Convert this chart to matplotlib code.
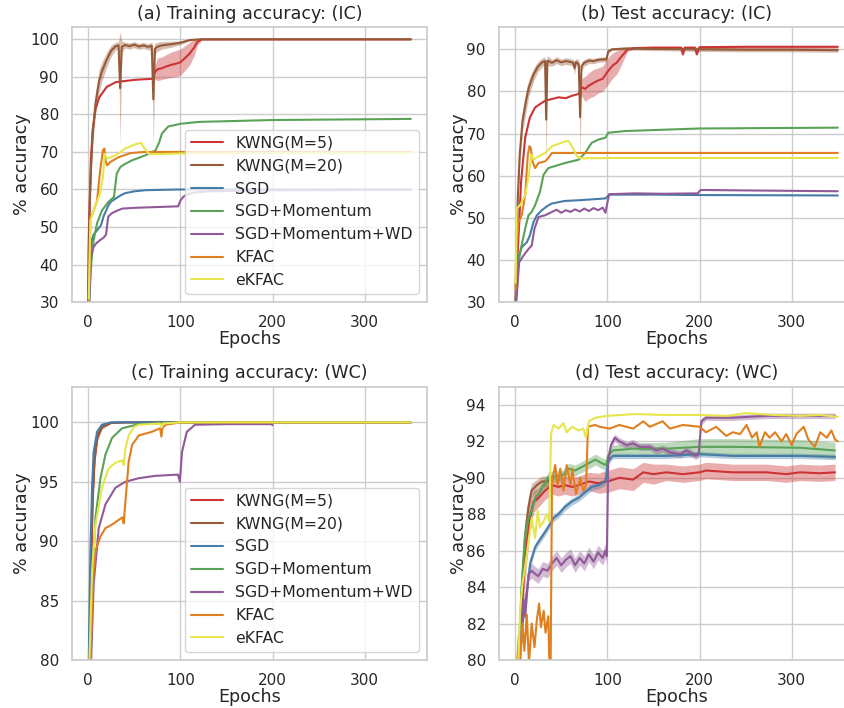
import numpy as np
import matplotlib.pyplot as plt
import seaborn as sns

sns.set_theme(style="whitegrid", context="notebook")
plt.rcParams['font.family'] = ['DejaVu Sans']
plt.rcParams['axes.titlesize'] = 12.6
plt.rcParams['axes.labelsize'] = 12.6
plt.rcParams['legend.fontsize'] = 11.3

labels = ["KWNG(M=5)", "KWNG(M=20)", "SGD", "SGD+Momentum", "SGD+Momentum+WD", "KFAC", "eKFAC"]
set1 = sns.color_palette("Set1", desat=0.75)
colors = [set1[0], set1[6], set1[1], set1[2], set1[3], set1[4], set1[5]]

# ---------------- (a) training accuracy, IC ----------------
a_ep_kw5 = [0, 1, 3, 5, 8, 12, 20, 30, 50, 70, 72, 75, 80, 85, 90, 95, 100, 105, 110, 115, 118, 123, 130, 200, 350]
a_kw5 = [30, 50, 68, 76, 81.5, 84.5, 87.3, 88.6, 89.2, 89.5, 91.0, 92.0, 92.3, 92.8, 93.2, 93.5, 93.9, 95.0, 96.2, 97.8, 99.2, 100, 100, 100, 100]
a_sd_kw5 = [0, 0, 0, 0, 0, 0, 0, 0, 0, 0, 1.5, 3.0, 3.0, 3.2, 3.4, 3.5, 3.5, 3.3, 3.0, 2.2, 1.0, 0.2, 0, 0, 0]

a_ep_kw20 = [0, 1, 3, 5, 8, 12, 15, 20, 25, 30, 33, 34.7, 36.5, 40, 45, 50, 55, 60, 65, 69,
             70.7, 72.5, 75, 80, 90, 100, 110, 120, 200, 350]
a_kw20 = [30, 50, 65, 75, 83, 89, 91.5, 94.5, 97, 98.2, 98.4, 87, 98.0, 98.5, 98.2, 98.6, 98.1, 98.4, 98.0, 98.3,
          84, 97.5, 98.0, 98.4, 98.7, 99.1, 99.8, 100, 100, 100]
a_sd_kw20 = [0, 1, 2, 2.5, 3, 3, 2.5, 2, 1.5, 1, 1, 15, 1.5, 0.8, 0.8, 0.8, 0.8, 0.8, 0.8, 1,
             13, 1.5, 1.2, 1, 0.8, 0.5, 0.2, 0.1, 0, 0]

a_ep_sgd = [0.5, 1.5, 2.5, 4, 6, 10, 14, 17, 20, 22, 25, 30, 35, 40, 50, 62, 80, 100, 200, 350]
a_sgd = [30, 38, 43.8, 46.5, 48, 49.2, 50.5, 53, 54.6, 55.8, 56.8, 57.6, 58.4, 59, 59.5, 59.8, 59.9, 60, 60, 60]

a_ep_mom = [1, 2, 3.6, 6, 9.7, 15, 22, 28, 31, 35, 40, 48, 62, 73, 77, 80, 87, 95, 100, 120, 200, 350]
a_mom = [29, 34, 41, 46.5, 51, 54.4, 56.7, 58, 64.2, 66, 66.8, 67.8, 69.1, 70.4, 72.5, 74.9, 76.8, 77.2, 77.5, 78.0, 78.5, 78.8]

a_ep_wd = [1, 2, 2.5, 4, 6, 9, 13, 17, 19.5, 21.7, 24, 26, 30, 37, 50, 73, 97.5, 100, 103, 107, 115, 130, 200, 350]
a_wd = [28, 36, 41, 43.2, 44.7, 45.7, 46.5, 47.2, 48, 52.7, 53.3, 53.7, 54.2, 54.9, 55.1, 55.3, 55.5, 57.0, 58.0, 58.6, 59.2, 59.5, 59.8, 59.9]

a_ep_kfac = [0.7, 2.5, 5, 9.7, 13, 16, 17.7, 18.8, 20.6, 24, 33, 46, 62, 100, 200, 350]
a_kfac = [30.5, 52.7, 53.6, 57, 65, 70.4, 70.9, 67.7, 66.4, 67.3, 68.6, 69.7, 70, 70, 70, 70]

a_ep_ekfac = [0.7, 2.5, 8, 13, 16, 18, 20.6, 30, 40, 53, 57.8, 60, 66, 73, 100, 200, 350]
a_ekfac = [30.9, 51.8, 55.8, 58.9, 63.3, 69.5, 68.2, 69.1, 70.9, 72.2, 72.4, 71.3, 69.5, 69.4, 69.6, 69.7, 69.7]

# ---------------- (b) test accuracy, IC ----------------
b_ep_kw5 = [0.5, 1.8, 4.3, 6.5, 10.9, 16, 21.7, 27, 32.6, 40, 47, 55, 62, 69, 72, 76, 80, 85, 90, 95,
            100, 106, 110, 115, 122, 130, 150, 180, 182, 184, 195, 197, 200, 250, 300, 350]
b_kw5 = [30, 37.8, 48.2, 58.6, 69, 73.8, 76.2, 77.0, 77.8, 78.2, 78.6, 78.4, 79.0, 79.4, 81.0, 80.6, 81.4, 82.0, 82.6, 83.0,
         84.6, 86.2, 86.8, 88.2, 90.0, 90.3, 90.4, 90.4, 88.8, 90.4, 90.4, 88.8, 90.5, 90.6, 90.6, 90.6]
b_sd_kw5 = [0, 0, 0, 0, 0, 0, 0, 0, 0, 0, 0, 0, 0, 0, 2.0, 3.0, 3.0, 3.2, 3.0, 3.0,
            3.2, 3.0, 2.8, 2.0, 0.5, 0.3, 0.3, 0.3, 0.3, 0.3, 0.3, 0.3, 0.3, 0.3, 0.3, 0.3]

b_ep_kw20 = [0.5, 1, 3, 5, 8, 12, 15, 20, 25, 30, 32.5, 33.7, 35, 40, 45, 50, 55, 60, 63, 64.5,
             66, 69, 70.5, 72, 75, 80, 85, 90, 95, 99, 101, 105, 120, 150, 200, 250, 300, 350]
b_kw20 = [30, 40, 55, 65, 73, 78, 81, 84, 86, 87, 87.2, 73.3, 87.3, 86.8, 87.4, 86.9, 87.2, 87.0, 86.8, 85.5,
          87.0, 86.5, 73.9, 86.0, 86.8, 87.3, 87.2, 87.5, 87.6, 87.6, 89.5, 90.0, 90.2, 90.1, 90.0, 89.9, 89.9, 89.8]
b_sd_kw20 = [0, 1, 2, 2.5, 2.5, 2.5, 2, 1.5, 1.2, 1, 1, 12, 1.2, 0.8, 0.8, 0.8, 0.8, 0.8, 0.8, 1.5,
             0.8, 1, 10, 1, 0.8, 0.7, 0.6, 0.6, 0.6, 0.6, 0.5, 0.3, 0.3, 0.4, 0.5, 0.5, 0.5, 0.5]

b_ep_sgd = [0.5, 1.8, 4.3, 7.2, 12.7, 16, 20, 23.6, 29, 35, 40, 54, 72, 85, 98, 100, 102, 150, 200, 350]
b_sgd = [30, 33, 41, 43, 44.2, 45.8, 49, 50.6, 51.8, 52.8, 53.4, 54.0, 54.2, 54.4, 54.6, 55.0, 55.5, 55.5, 55.4, 55.3]

b_ep_mom = [0.5, 2.9, 5.4, 10.9, 14.5, 18, 21.7, 27, 30.8, 36, 54, 69, 76, 83, 90.6, 98, 101, 120, 200, 350]
b_mom = [29.8, 37.8, 41.8, 47.4, 50.6, 51.4, 53, 56.2, 60.2, 61.8, 63, 63.8, 65.4, 67.8, 68.6, 69, 70.2, 70.6, 71.2, 71.4]

b_ep_wd = [0.5, 1.8, 4.3, 9, 14.5, 18, 21, 25.4, 32.6, 40, 45, 50, 55, 60, 65, 70, 75, 80, 85, 90,
           95, 98, 100, 102, 130, 160, 198, 201, 250, 350]
b_wd = [28, 31.4, 39.4, 41, 42.6, 43.4, 47.4, 50.2, 50.6, 51.4, 51.9, 51.2, 51.8, 51.4, 52.0, 51.5, 52.2, 51.6, 52.3, 51.8,
        52.4, 51.2, 53.5, 55.6, 55.8, 55.7, 55.8, 56.6, 56.5, 56.3]

b_ep_kfac = [0.5, 1.8, 3.6, 7.2, 10.9, 13.8, 15.6, 17, 18.8, 21.7, 25.4, 32.6, 36, 40, 100, 200, 350]
b_kfac = [33, 43.4, 49, 50.6, 55.4, 65, 67, 66.6, 63.4, 61.8, 63, 63.4, 64.2, 65.4, 65.4, 65.4, 65.4]

b_ep_ekfac = [0.5, 1.8, 5.4, 10.9, 15, 17.4, 20, 25.4, 32.6, 40, 54, 58, 61.6, 67, 72, 100, 200, 350]
b_ekfac = [34.6, 52.2, 53, 55.4, 60.2, 65, 63.8, 64.6, 65.4, 67, 68.1, 68.2, 67, 64.6, 64.1, 64.2, 64.2, 64.2]

# ---------------- (c) training accuracy, WC ----------------
c_ep_kw5 = [1, 3, 5, 7, 10, 15, 25, 40, 350]
c_kw5 = [79, 87.5, 93.5, 96.8, 98.7, 99.6, 99.95, 100, 100]

c_ep_kw20 = [1, 3, 5, 7, 10, 15, 25, 40, 350]
c_kw20 = [79, 88, 94, 97, 98.8, 99.6, 99.95, 100, 100]
c_sd_kw20 = [0, 0.8, 0.8, 0.6, 0.4, 0.2, 0, 0, 0]

c_ep_sgd = [0.7, 2.5, 4.3, 6, 9.7, 15, 25, 350]
c_sgd = [80, 89.2, 94.7, 97.5, 99.2, 99.8, 100, 100]

c_ep_mom = [2.5, 4.3, 8, 13.4, 18.8, 26, 36.8, 55, 100, 350]
c_mom = [80, 86.4, 92, 95.3, 97.3, 98.7, 99.5, 99.85, 100, 100]

c_ep_wd = [3.2, 6, 11.5, 18.8, 29.6, 40.4, 55, 73, 97.5, 99.5, 101.8, 107, 116, 150, 199, 200]
c_wd = [80, 86.4, 91.1, 93.1, 94.5, 95, 95.3, 95.5, 95.6, 95.0, 97.5, 99.2, 99.8, 99.85, 99.85, 99.75]

c_ep_kfac = [2.5, 5, 8, 13.4, 18.8, 26, 37, 38.6, 40.4, 44, 47.7, 55, 69, 78, 79.5, 80.5, 84, 100, 350]
c_kfac = [80, 86.4, 89.2, 90.4, 91.1, 91.4, 92, 91.5, 93.3, 96.7, 98.1, 98.9, 99.2, 99.5, 98.8, 99.5, 99.8, 100, 100]

c_ep_ekfac = [1.4, 4.3, 8, 15, 22, 29.6, 37, 38.6, 40.4, 44, 49.5, 55, 78, 80, 81, 100, 350]
c_ekfac = [80, 87.5, 91.4, 94.5, 96.1, 96.6, 96.8, 96.4, 97.8, 98.9, 99.6, 99.8, 99.9, 99.6, 99.9, 100, 100]

# ---------------- (d) test accuracy, WC ----------------
d_ep_kw5 = [4.3, 9, 12.7, 16.3, 20, 25.4, 32.6, 40, 47, 54, 61.6, 69, 80, 90.6, 98, 100.7, 113, 128, 139, 150,
            164, 182, 200, 207, 236, 273, 294, 309, 330, 347]
d_kw5 = [80, 84.2, 86.4, 87.8, 88.7, 88.9, 89.3, 89.6, 89.5, 89.6, 89.5, 89.6, 89.8, 89.7, 89.8, 89.8, 90.0, 89.9, 90.3, 90.2,
         90.3, 90.2, 90.3, 90.4, 90.3, 90.3, 90.2, 90.3, 90.25, 90.3]
d_sd_kw5 = [0.5, 1.0, 1.0, 0.8, 0.6, 0.5, 0.5, 0.5, 0.5, 0.5, 0.5, 0.5, 0.5, 0.55, 0.6, 0.6, 0.6, 0.6, 0.55, 0.55,
            0.45, 0.45, 0.45, 0.45, 0.45, 0.45, 0.45, 0.45, 0.45, 0.45]

d_ep_kw20 = [4, 7.2, 10.9, 14.5, 18, 23.6, 29, 34.4, 38]
d_kw20 = [80, 83.8, 86.9, 88.4, 89.3, 89.6, 89.8, 89.8, 89.9]
d_sd_kw20 = [0.3, 0.6, 0.8, 0.6, 0.4, 0.3, 0.3, 0.3, 0.3]

d_ep_sgd = [3.6, 9, 12.7, 16.3, 21.7, 25.4, 30.8, 36, 41.7, 47, 54, 61.6, 68.8, 76, 83, 90.6, 98, 100.7, 106, 128,
            164, 200, 236, 273, 310, 347]
d_sgd = [80, 82.4, 83.8, 85.3, 86.2, 86.5, 86.9, 87.3, 87.8, 88.0, 88.4, 88.7, 88.9, 89.2, 89.5, 89.6, 89.8, 90.9, 91.2, 91.2,
         91.2, 91.3, 91.2, 91.2, 91.2, 91.15]
d_sd_sgd = [0.2, 0.3, 0.3, 0.3, 0.2, 0.2, 0.2, 0.2, 0.2, 0.2, 0.2, 0.2, 0.2, 0.2, 0.2, 0.2, 0.2, 0.2, 0.15, 0.15,
            0.15, 0.15, 0.15, 0.15, 0.15, 0.15]

d_ep_mom = [3.6, 7.2, 10.9, 14.5, 18, 21.7, 25.4, 30.8, 36, 43.5, 50.7, 58, 65, 72.5, 80, 87, 94, 99, 100.7, 106,
            128, 164, 200, 236, 309, 347]
d_mom = [80, 84.2, 86.9, 87.8, 88.2, 88.9, 89.1, 89.6, 90.0, 90.1, 90.1, 90.5, 90.4, 90.6, 90.8, 91.0, 90.8, 90.7, 91.2, 91.5,
         91.6, 91.6, 91.7, 91.7, 91.65, 91.5]
d_sd_mom = [0.2, 0.3, 0.3, 0.3, 0.3, 0.3, 0.3, 0.3, 0.3, 0.3, 0.3, 0.3, 0.3, 0.3, 0.3, 0.3, 0.3, 0.3, 0.3, 0.3,
            0.3, 0.35, 0.45, 0.45, 0.45, 0.45]

d_ep_wd = [3.6, 6, 9, 10.9, 14.5, 18, 20, 25, 30, 35, 40, 45, 50, 55, 60, 65, 70, 75, 80, 85,
           90, 95, 98, 99.5, 101, 104, 108, 113, 121, 128, 135, 146, 153, 160, 168, 179, 186, 196, 199, 202,
           207, 236, 273, 309, 347]
d_wd = [80, 80.9, 83.3, 82.4, 84.7, 84.9, 84.8, 84.6, 85.0, 84.9, 85.3, 85.6, 85.2, 85.5, 85.7, 85.2, 85.6, 85.3, 85.8, 85.4,
        85.9, 85.6, 86.0, 85.7, 91.0, 91.8, 92.2, 92.0, 91.8, 91.9, 91.7, 91.7, 91.5, 91.6, 91.4, 91.3, 91.5, 91.2, 91.3, 93.1,
        93.3, 93.3, 93.4, 93.4, 93.4]
d_sd_wd = [0.3, 0.4, 0.5, 0.5, 0.4, 0.4, 0.4, 0.4, 0.4, 0.4, 0.4, 0.4, 0.4, 0.4, 0.4, 0.4, 0.4, 0.4, 0.4, 0.4,
           0.4, 0.4, 0.4, 0.4, 0.3, 0.2, 0.2, 0.2, 0.2, 0.2, 0.2, 0.2, 0.2, 0.2, 0.2, 0.2, 0.2, 0.2, 0.2, 0.2,
           0.15, 0.15, 0.15, 0.15, 0.15]

d_ep_kfac = [1.8, 4, 5.5, 8, 10, 12.7, 15, 18, 21, 23.6, 26, 28, 31, 33, 36, 37.3, 38.5, 40, 43.5, 46,
             49, 52.5, 56, 60, 62, 66, 70.7, 74, 77, 79, 87, 91.7, 102.5, 113, 128, 139, 146, 160, 168, 182,
             200, 207, 218, 229, 236, 244, 251, 257, 262, 265, 271, 276, 282, 289, 294, 300, 305, 313, 318, 325,
             331, 338, 343, 347, 350]
d_kfac = [79.5, 81.3, 79.8, 82.0, 80.5, 82.5, 79.8, 82.0, 80.7, 82.2, 83.1, 81.8, 82.7, 81.5, 82.4, 79.5, 79.5, 89.8, 90.7, 89.6,
          90.5, 89.3, 90.7, 89.6, 90.5, 89.1, 90.0, 89.3, 89.6, 92.8, 92.9, 92.8, 92.7, 92.9, 92.7, 93.1, 92.8, 93.1, 92.7, 92.9,
          92.8, 92.5, 92.8, 92.3, 92.5, 92.4, 92.9, 92.2, 92.5, 91.7, 92.5, 92.2, 92.5, 92.0, 92.4, 91.8, 92.4, 92.8, 92.1, 91.7,
          92.5, 92.2, 92.6, 92.1, 92.0]

d_ep_ekfac = [3.6, 5.4, 8, 10.9, 14.5, 18, 21.7, 24.6, 27, 30.8, 34.4, 37, 39, 41.7, 47, 52.5, 56, 61.6, 68.8, 74,
              76.8, 80, 87, 100, 130, 160, 200, 230, 250, 280, 310, 330, 350]
d_ekfac = [80, 82.7, 84.2, 85.1, 86.5, 87.8, 86.7, 88.2, 87.3, 87.6, 88.0, 87.6, 92.4, 92.9, 92.7, 93.0, 92.5, 92.8, 92.6, 92.7,
           92.2, 93.1, 93.3, 93.4, 93.5, 93.45, 93.45, 93.4, 93.55, 93.45, 93.4, 93.45, 93.35]

panels = [
    dict(title="(a) Training accuracy: (IC)", ylim=(30, 103.3), yticks=range(30, 101, 10), legend=True,
         pos=[0.0853, 0.5734, 0.4206, 0.3885],
         series=[(a_ep_kw5, a_kw5, a_sd_kw5), (a_ep_kw20, a_kw20, a_sd_kw20), (a_ep_sgd, a_sgd, None),
                 (a_ep_mom, a_mom, None), (a_ep_wd, a_wd, None), (a_ep_kfac, a_kfac, None), (a_ep_ekfac, a_ekfac, None)]),
    dict(title="(b) Test accuracy: (IC)", ylim=(30, 95.3), yticks=range(30, 91, 10), legend=False,
         pos=[0.5912, 0.5734, 0.4206, 0.3885],
         series=[(b_ep_kw5, b_kw5, b_sd_kw5), (b_ep_kw20, b_kw20, b_sd_kw20), (b_ep_sgd, b_sgd, None),
                 (b_ep_mom, b_mom, None), (b_ep_wd, b_wd, None), (b_ep_kfac, b_kfac, None), (b_ep_ekfac, b_ekfac, None)]),
    dict(title="(c) Training accuracy: (WC)", ylim=(80, 103), yticks=range(80, 101, 5), legend=True,
         pos=[0.0853, 0.0678, 0.4206, 0.386],
         series=[(c_ep_kw5, c_kw5, None), (c_ep_kw20, c_kw20, c_sd_kw20), (c_ep_sgd, c_sgd, None),
                 (c_ep_mom, c_mom, None), (c_ep_wd, c_wd, None), (c_ep_kfac, c_kfac, None), (c_ep_ekfac, c_ekfac, None)]),
    dict(title="(d) Test accuracy: (WC)", ylim=(80, 95), yticks=range(80, 95, 2), legend=False,
         pos=[0.5912, 0.0678, 0.4206, 0.386],
         series=[(d_ep_kw5, d_kw5, d_sd_kw5), (d_ep_kw20, d_kw20, d_sd_kw20), (d_ep_sgd, d_sgd, d_sd_sgd),
                 (d_ep_mom, d_mom, d_sd_mom), (d_ep_wd, d_wd, d_sd_wd), (d_ep_kfac, d_kfac, None), (d_ep_ekfac, d_ekfac, None)]),
]

fig = plt.figure(figsize=(8.44, 7.08), dpi=100)
for p in panels:
    ax = fig.add_axes(p["pos"])
    for (ep, val, sd), lab, col in zip(p["series"], labels, colors):
        ep = np.array(ep)
        val = np.array(val)
        if sd is not None:
            sd = np.array(sd)
            ax.fill_between(ep, val - sd, val + sd, color=col, alpha=0.4, linewidth=0)
        ax.plot(ep, val, color=col, lw=1.5, label=lab)
    ax.set_xlim(-17.5, 367.5)
    ax.set_ylim(*p["ylim"])
    ax.set_xticks([0, 100, 200, 300])
    ax.set_yticks(list(p["yticks"]))
    ax.set_title(p["title"])
    ax.set_xlabel("Epochs", labelpad=0)
    ax.set_ylabel("% accuracy", labelpad=-1)
    if p["legend"]:
        ax.legend(loc="lower right")

fig.savefig("out.png", dpi=100)
